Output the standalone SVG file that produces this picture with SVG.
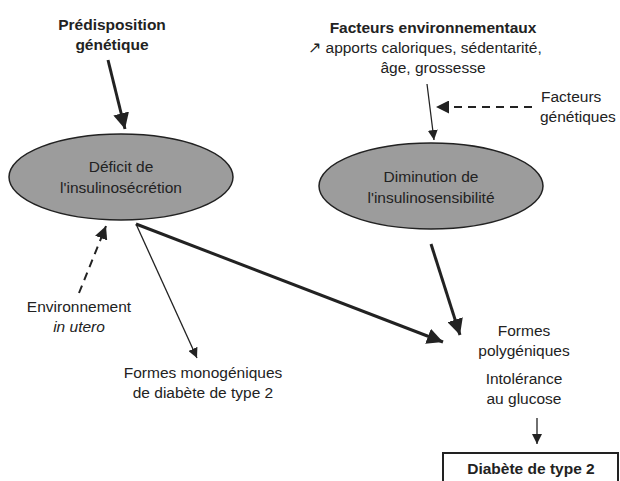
<svg xmlns="http://www.w3.org/2000/svg" width="620" height="481" viewBox="0 0 620 481">
<style>
text{font-family:"Liberation Sans",Arial,sans-serif;font-size:15.5px;fill:#222;}
.b{font-weight:bold;}
.m{text-anchor:middle;}
.ell{fill:#9c9c9c;stroke:#222;stroke-width:1.5;}
.thin{stroke:#222;stroke-width:1.3;fill:none;}
.thick{stroke:#222;stroke-width:3;fill:none;}
.dash{stroke:#222;stroke-width:2;fill:none;stroke-dasharray:8 6;}
</style>
<defs>
<marker id="ah" viewBox="0 0 10 10" refX="10" refY="5" markerWidth="10" markerHeight="10" markerUnits="userSpaceOnUse" orient="auto"><path d="M0,0 L10,5 L0,10 z" fill="#222"/></marker>
<marker id="ahb" viewBox="0 0 10 10" refX="10" refY="5" markerWidth="16" markerHeight="16" markerUnits="userSpaceOnUse" orient="auto"><path d="M0,0 L10,5 L0,10 z" fill="#222"/></marker>
<marker id="ahd" viewBox="0 0 10 10" refX="10" refY="5" markerWidth="13" markerHeight="13" markerUnits="userSpaceOnUse" orient="auto"><path d="M0,0 L10,5 L0,10 z" fill="#222"/></marker>
</defs>
<g id="connectors">
<line class="thick" x1="108" y1="60" x2="125" y2="129" marker-end="url(#ahb)"/>
<line class="thin" x1="427" y1="84" x2="434" y2="140" marker-end="url(#ah)"/>
<line class="dash" x1="532" y1="107" x2="436" y2="107" marker-end="url(#ahd)"/>
<line class="dash" x1="79" y1="293" x2="106" y2="226" marker-end="url(#ahd)"/>
<line class="thick" x1="136" y1="224" x2="443" y2="342" marker-end="url(#ahb)"/>
<line class="thin" x1="136" y1="224" x2="197" y2="358" marker-end="url(#ah)"/>
<line class="thick" x1="431" y1="244" x2="460" y2="335" marker-end="url(#ahb)"/>
<line class="thin" x1="537" y1="418" x2="537" y2="444" marker-end="url(#ah)"/>
</g>
<g id="predisposition">
<text class="b m" x="112" y="30">Prédisposition</text>
<text class="b m" x="112" y="50">génétique</text>
</g>
<g id="facteurs-env">
<text class="b m" x="433" y="33">Facteurs environnementaux</text>
<text class="m" x="425" y="53">↗ apports caloriques, sédentarité,</text>
<text class="m" x="433" y="73">âge, grossesse</text>
</g>
<g id="facteurs-gen">
<text x="541" y="102">Facteurs</text>
<text x="540" y="122">génétiques</text>
</g>
<g id="deficit">
<ellipse class="ell" cx="121" cy="177" rx="112" ry="43"/>
<text class="m" x="121" y="172">Déficit de</text>
<text class="m" x="121" y="193">l'insulinosécrétion</text>
</g>
<g id="diminution">
<ellipse class="ell" cx="431" cy="186" rx="112" ry="43"/>
<text class="m" x="431" y="182">Diminution de</text>
<text class="m" x="431" y="203">l'insulinosensibilité</text>
</g>
<g id="environnement">
<text class="m" x="79" y="312">Environnement</text>
<text class="m" x="79" y="332" font-style="italic">in utero</text>
</g>
<g id="monogeniques">
<text class="m" x="203" y="378">Formes monogéniques</text>
<text class="m" x="203" y="398">de diabète de type 2</text>
</g>
<g id="polygeniques">
<text class="m" x="524" y="336">Formes</text>
<text class="m" x="524" y="356">polygéniques</text>
<text class="m" x="524" y="384">Intolérance</text>
<text class="m" x="524" y="404">au glucose</text>
</g>
<g id="diabete">
<rect x="443" y="453" width="175" height="40" fill="#fff" stroke="#222" stroke-width="2"/>
<text class="b m" x="531" y="474">Diabète de type 2</text>
</g>
</svg>
